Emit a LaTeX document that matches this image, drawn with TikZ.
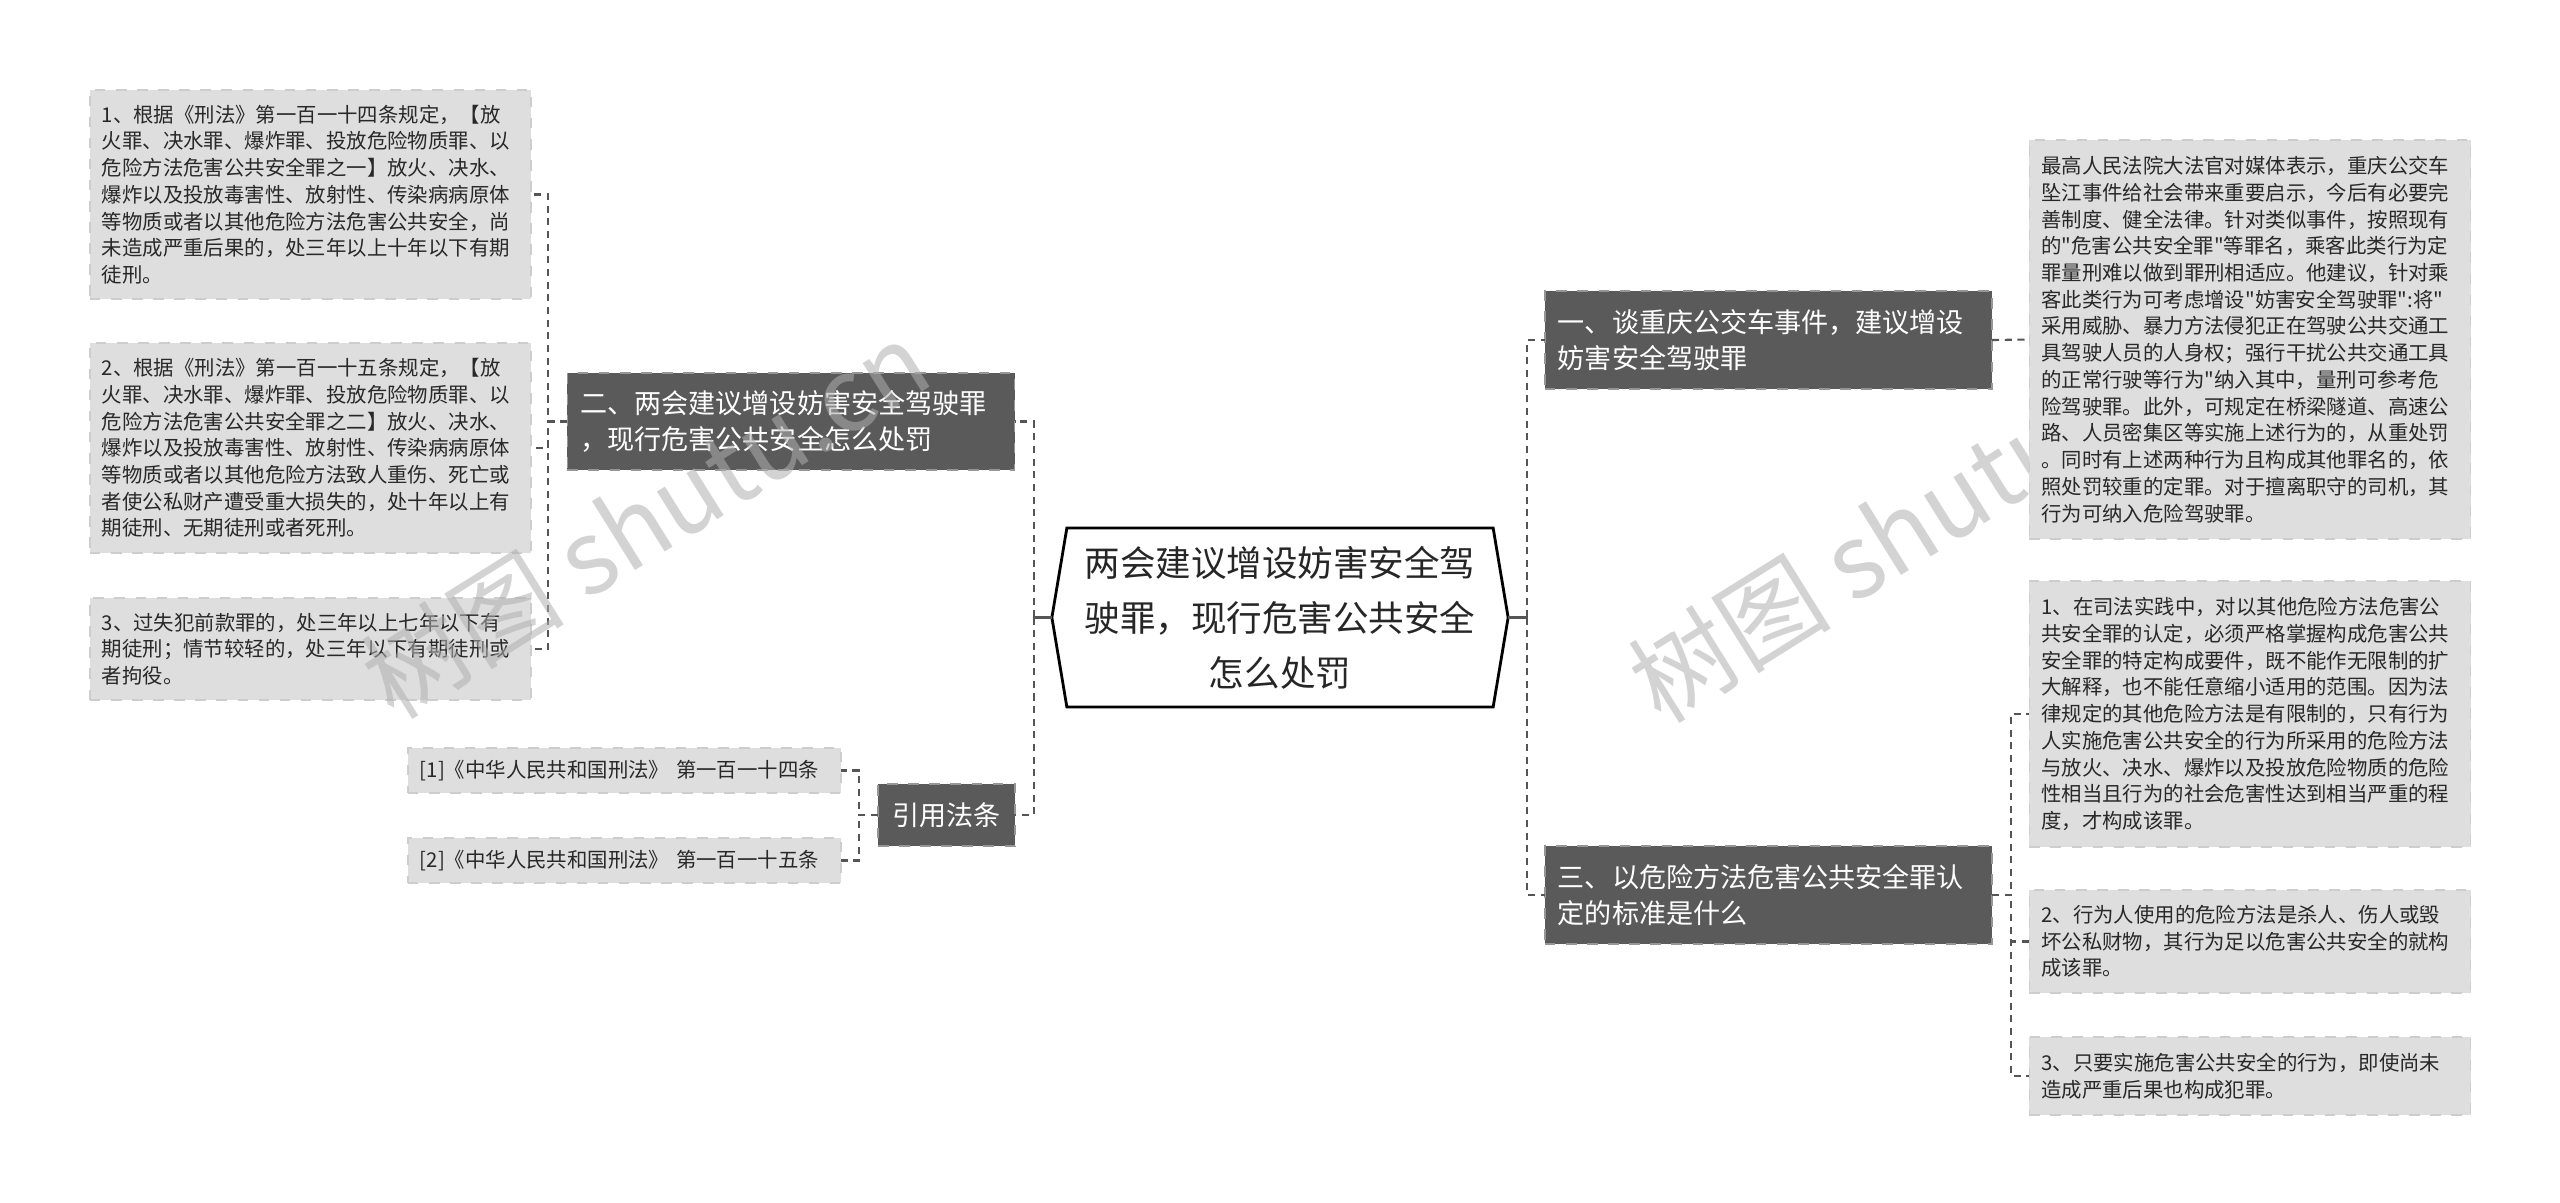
\documentclass[tikz,border=0pt]{standalone}
\usepackage{fontspec}
\setmainfont{Noto Sans CJK SC}[Ligatures=TeXOff]
\usetikzlibrary{calc}
\definecolor{tdark} {RGB}{ 90, 90, 90}
\definecolor{tedge} {RGB}{150,150,150}
\definecolor{lgray} {RGB}{222,222,222}
\definecolor{ledge} {RGB}{205,205,205}
\definecolor{ltext} {RGB}{ 40, 40, 40}
\definecolor{cline} {RGB}{ 85, 85, 85}
\definecolor{wmark} {RGB}{175,175,175}
\tikzset{
  % Dark topic box
  TB/.style={rectangle,draw=tedge,dashed,fill=tdark,text=white,
             text width=#1,align=left,outer sep=0pt,
             font=\fontsize{7.7pt}{10.4pt}\selectfont,
             inner xsep=0.13cm,inner ysep=0pt,line width=0.4pt},
  TB/.default=4.21cm,
  % Grey leaf box
  LB/.style={rectangle,draw=ledge,dashed,fill=lgray,text=ltext,
             text width=#1,align=left,outer sep=0pt,
             font=\fontsize{5.8pt}{7.6pt}\selectfont,
             inner xsep=0.12cm,inner ysep=0pt,line width=0.4pt},
  LB/.default=4.17cm,
  % Central hub
  HB/.style={rectangle,minimum width=4.56cm,minimum height=1.79cm,
             align=center,inner sep=0pt,outer sep=0pt,text=black!85,
             font=\fontsize{10.1pt}{15.6pt}\selectfont},
  % Connectors
  Conn/.style={draw=cline,line width=0.6pt,dash pattern=on 2pt off 1.6pt},
  Stub/.style={draw=cline,line width=0.8pt},
  WM/.style={text=wmark,opacity=0.55,font=\fontsize{29pt}{29pt}\selectfont,
             inner sep=0pt},
}
\begin{document}
\begin{tikzpicture}[x=0.01cm,y=-0.01cm]
      \fill[white] (0,0) rectangle (2560,1203);
      \useasboundingbox (0,0) rectangle (2560,1203);
      \node[WM,rotate=32,anchor=west] (wm2) at (1640,693) {树图 shutu};

      % hub
      \node[HB] (hub) at (1280,617.5)
            {两会建议增设妨害安全驾\\驶罪，现行危害公共安全\\怎么处罚};
      \draw[line width=0.8pt] (hub.west)
            -- ($(hub.north west)+(15,0)$) -- ($(hub.north east)+(-15,0)$)
            -- (hub.east) -- ($(hub.south east)+(-15,0)$)
            -- ($(hub.south west)+(15,0)$) -- cycle;

      % left branch
      \node[TB,minimum height=0.97cm] (b2) at (791,421.5)
            {二、两会建议增设妨害安全驾驶罪\\，现行危害公共安全怎么处罚};
      \node[TB=1.11cm,align=center,minimum height=0.62cm] (cite) at (946.5,815)
            {引用法条};
      \node[LB,minimum height=2.09cm] (l1) at (310.5,194.5)
            {1、根据《刑法》第一百一十四条规定，【放\\
             火罪、决水罪、爆炸罪、投放危险物质罪、以\\
             危险方法危害公共安全罪之一】放火、决水、\\
             爆炸以及投放毒害性、放射性、传染病病原体\\
             等物质或者以其他危险方法危害公共安全，尚\\
             未造成严重后果的，处三年以上十年以下有期\\
             徒刑。};
      \node[LB,minimum height=2.10cm] (l2) at (310.5,448)
            {2、根据《刑法》第一百一十五条规定，【放\\
             火罪、决水罪、爆炸罪、投放危险物质罪、以\\
             危险方法危害公共安全罪之二】放火、决水、\\
             爆炸以及投放毒害性、放射性、传染病病原体\\
             等物质或者以其他危险方法致人重伤、死亡或\\
             者使公私财产遭受重大损失的，处十年以上有\\
             期徒刑、无期徒刑或者死刑。};
      \node[LB,minimum height=1.02cm] (l3) at (310.5,649)
            {3、过失犯前款罪的，处三年以上七年以下有\\
             期徒刑；情节较轻的，处三年以下有期徒刑或\\
             者拘役。};
      \node[LB=4.09cm,minimum height=0.45cm] (ref1) at (624.5,770.5)
            {[1]《中华人民共和国刑法》 第一百一十四条};
      \node[LB=4.09cm,minimum height=0.45cm] (ref2) at (624.5,860.5)
            {[2]《中华人民共和国刑法》 第一百一十五条};

      % right branch
      \node[TB,minimum height=0.98cm] (b1) at (1768.5,340)
            {一、谈重庆公交车事件，建议增设\\妨害安全驾驶罪};
      \node[TB,minimum height=0.98cm] (b3) at (1768.5,895)
            {三、以危险方法危害公共安全罪认\\定的标准是什么};
      \node[LB,minimum height=3.99cm] (r1) at (2250,339.5)
            {最高人民法院大法官对媒体表示，重庆公交车\\
             坠江事件给社会带来重要启示，今后有必要完\\
             善制度、健全法律。针对类似事件，按照现有\\
             的"危害公共安全罪"等罪名，乘客此类行为定\\
             罪量刑难以做到罪刑相适应。他建议，针对乘\\
             客此类行为可考虑增设"妨害安全驾驶罪":将"\\
             采用威胁、暴力方法侵犯正在驾驶公共交通工\\
             具驾驶人员的人身权；强行干扰公共交通工具\\
             的正常行驶等行为"纳入其中，量刑可参考危\\
             险驾驶罪。此外，可规定在桥梁隧道、高速公\\
             路、人员密集区等实施上述行为的，从重处罚\\
             。同时有上述两种行为且构成其他罪名的，依\\
             照处罚较重的定罪。对于擅离职守的司机，其\\
             行为可纳入危险驾驶罪。};
      \node[LB,minimum height=2.66cm] (r2) at (2250,714)
            {1、在司法实践中，对以其他危险方法危害公\\
             共安全罪的认定，必须严格掌握构成危害公共\\
             安全罪的特定构成要件，既不能作无限制的扩\\
             大解释，也不能任意缩小适用的范围。因为法\\
             律规定的其他危险方法是有限制的，只有行为\\
             人实施危害公共安全的行为所采用的危险方法\\
             与放火、决水、爆炸以及投放危险物质的危险\\
             性相当且行为的社会危害性达到相当严重的程\\
             度，才构成该罪。};
      \node[LB,minimum height=1.03cm] (r3) at (2250,941.5)
            {2、行为人使用的危险方法是杀人、伤人或毁\\
             坏公私财物，其行为足以危害公共安全的就构\\
             成该罪。};
      \node[LB,minimum height=0.78cm] (r4) at (2250,1076)
            {3、只要实施危害公共安全的行为，即使尚未\\
             造成严重后果也构成犯罪。};

      % connectors
      \coordinate (jl) at (1034,617.5);
      \coordinate (jr) at (1527,617.5);
      \draw[Stub] (hub.west) -- (jl);
      \draw[Stub] (hub.east) -- (jr);
      \draw[Conn] (jl) |- (b2.east);
      \draw[Conn] (jl) |- (cite.east);
      \draw[Conn] (jr) |- (b1.west);
      \draw[Conn] (jr) |- (b3.west);
      \draw[Conn] (b2.west) -- ++(-19,0) |- (l1.east);
      \draw[Conn] (b2.west) -- ++(-19,0) |- (l2.east);
      \draw[Conn] (b2.west) -- ++(-19,0) |- (l3.east);
      \draw[Conn] (cite.west) -- ++(-19,0) |- (ref1.east);
      \draw[Conn] (cite.west) -- ++(-19,0) |- (ref2.east);
      \draw[Conn] (b1.east) -- (r1.west);
      \draw[Conn] (b3.east) -- ++(19,0) |- (r2.west);
      \draw[Conn] (b3.east) -- ++(19,0) |- (r3.west);
      \draw[Conn] (b3.east) -- ++(19,0) |- (r4.west);

      \node[WM,rotate=32] (wm1) at (645,519) {树图 shutu.cn};
    \end{tikzpicture}
\end{document}
